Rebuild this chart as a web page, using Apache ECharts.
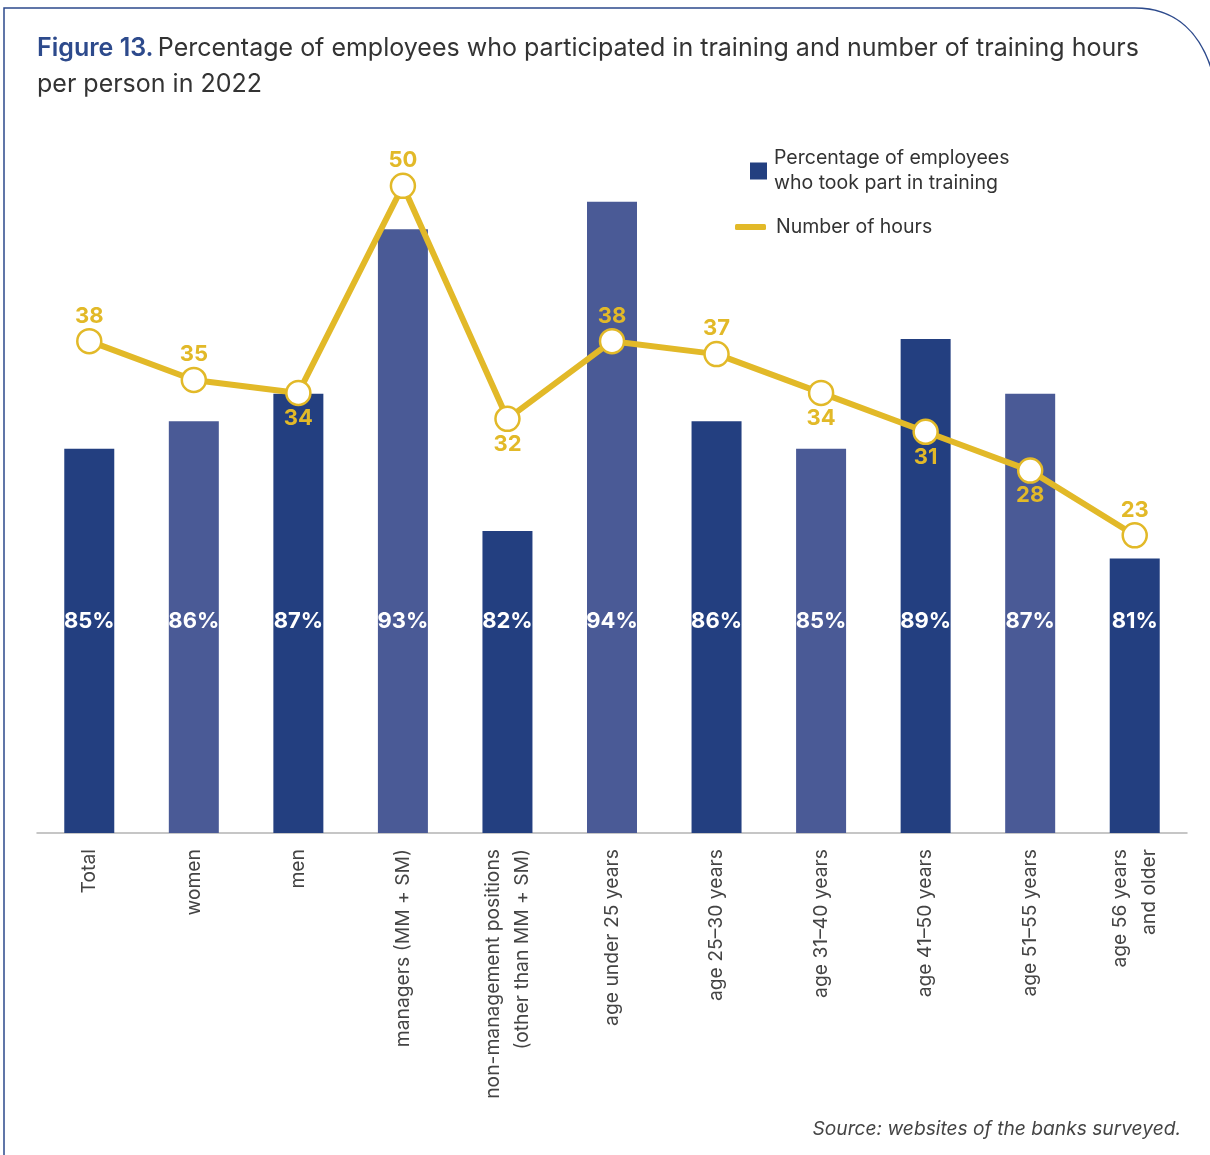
<!DOCTYPE html>
<html>
<head>
<meta charset="utf-8">
<script src="https://cdn.jsdelivr.net/npm/echarts@6/dist/echarts.min.js"></script>
<style>
  html, body { margin: 0; padding: 0; background: #ffffff; }
  #chart { width: 1210px; height: 1155px; }
</style>
</head>
<body>
<div id="chart"></div>
<script>
// Categories along the x axis
const categories = [
  'Total', 'women', 'men', 'managers (MM + SM)',
  'non-management positions\n(other than MM + SM)',
  'age under 25 years', 'age 25–30 years', 'age 31–40 years',
  'age 41–50 years', 'age 51–55 years', 'age 56 years\nand older'
];
// Share of employees who took part in training (%)
const participation = [85, 86, 87, 93, 82, 94, 86, 85, 89, 87, 81];
// Training hours per person
const hours = [38, 35, 34, 50, 32, 38, 37, 34, 31, 28, 23];
// Where each hours label sits relative to its point
const hourLabelSide = ['top', 'top', 'bottom', 'top', 'bottom', 'top', 'top', 'bottom', 'bottom', 'bottom', 'top'];

const DARK = '#233f80';
const LIGHT = '#4a5a96';
const GOLD = '#e2b928';
const FRAME = '#2d4a8c';
const FONT = 'Inter, "Noto Sans", sans-serif';

const barData = participation.map((v, i) => ({
  value: v,
  itemStyle: { color: i % 2 === 0 ? DARK : LIGHT }
}));
const lineData = hours.map((v, i) => ({
  value: v,
  label: { position: hourLabelSide[i] }
}));

const chart = echarts.init(document.getElementById('chart'), null, { renderer: 'canvas' });
chart.setOption({
  backgroundColor: '#ffffff',
  animation: false,
  textStyle: { fontFamily: FONT },
  title: {
    left: 37, top: 30, padding: 0,
    text: '{a|Figure 13.} {b|Percentage of employees who participated in training and number of training hours}\n{b|per person in 2022}',
    textStyle: {
      rich: {
        a: { fontFamily: FONT, fontSize: 25, fontWeight: 600, color: FRAME, lineHeight: 36 },
        b: { fontFamily: FONT, fontSize: 25, fontWeight: 400, color: '#333333', lineHeight: 36 }
      }
    }
  },
  legend: [
    {
      left: 750, top: 146, orient: 'vertical', padding: 0,
      data: [{ name: 'Percentage of employees\nwho took part in training', icon: 'rect' }],
      itemWidth: 17, itemHeight: 17, itemGap: 0,
      textStyle: { fontFamily: FONT, fontSize: 19.5, color: '#333333', lineHeight: 25, padding: [0, 0, 0, 2] }
    },
    {
      left: 735, top: 217, orient: 'vertical', padding: 0,
      data: [{ name: 'Number of hours', icon: 'roundRect', itemStyle: { color: GOLD, borderWidth: 0 } }],
      itemWidth: 31, itemHeight: 6, itemGap: 0,
      textStyle: { fontFamily: FONT, fontSize: 19.5, color: '#333333', padding: [0, 0, 0, 5] }
    }
  ],
  grid: { left: 37, right: 23, top: 37, bottom: 322, containLabel: false },
  xAxis: {
    type: 'category',
    data: categories,
    axisLine: { show: true, lineStyle: { color: '#b4b4b4', width: 1.5 } },
    axisTick: { show: false },
    axisLabel: {
      rotate: 90, margin: 16, interval: 0,
      fontFamily: FONT, fontSize: 19.3, color: '#444444', lineHeight: 29
    }
  },
  yAxis: [
    { type: 'value', min: 71, max: 100, show: false, splitLine: { show: false } },
    { type: 'value', min: 0, max: 61.5, show: false, splitLine: { show: false } }
  ],
  series: [
    {
      name: 'Percentage of employees\nwho took part in training',
      type: 'bar',
      yAxisIndex: 0,
      barWidth: 50,
      data: barData,
      itemStyle: { color: DARK },
      label: {
        show: true, position: 'insideBottom', distance: 201,
        formatter: '{c}%', color: '#ffffff',
        fontFamily: FONT, fontSize: 22, fontWeight: 700
      }
    },
    {
      name: 'Number of hours',
      type: 'line',
      yAxisIndex: 1,
      data: lineData,
      z: 5,
      lineStyle: { color: GOLD, width: 6 },
      itemStyle: { color: '#ffffff', borderColor: GOLD, borderWidth: 2.5 },
      symbol: 'circle', symbolSize: 24,
      label: {
        show: true, distance: 1, color: GOLD,
        fontFamily: FONT, fontSize: 22, fontWeight: 700
      },
      emphasis: { disabled: true }
    }
  ],
  graphic: [
    {
      type: 'polyline', silent: true,
      shape: { points: [[4, 1160], [4, 8], [1135, 8]] },
      style: { fill: null, stroke: FRAME, lineWidth: 1.5 }
    },
    {
      type: 'bezierCurve', silent: true,
      shape: { x1: 1135, y1: 8, cpx1: 1175, cpy1: 8, cpx2: 1202, cpy2: 32, x2: 1214, y2: 78 },
      style: { fill: null, stroke: FRAME, lineWidth: 1.5 }
    },
    {
      type: 'text', right: 29, top: 1120, silent: true,
      style: {
        text: 'Source: websites of the banks surveyed.',
        fontFamily: FONT, fontSize: 19.2, fontStyle: 'italic', fill: '#444444'
      }
    }
  ]
});
</script>
</body>
</html>
